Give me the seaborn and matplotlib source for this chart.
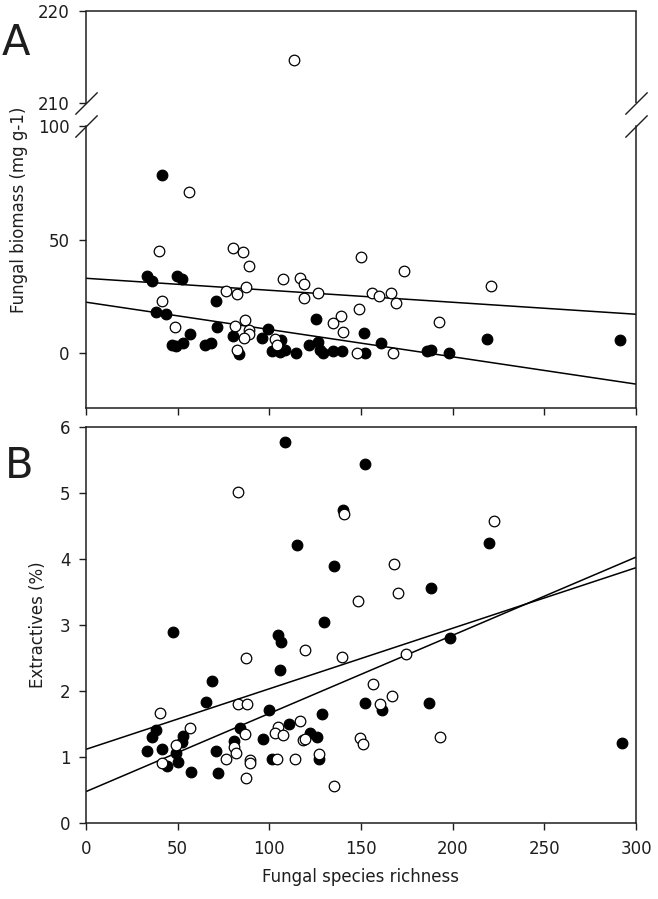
import numpy as np
import pandas as pd
import seaborn as sns
import matplotlib.pyplot as plt

# panel A: fungal biomass (mg g-1) vs fungal species richness
a_filled_x = [41.3, 33.1, 35.8, 49.8, 52.2, 70.7, 38.0, 43.6, 56.7, 46.7, 48.9, 52.7, 64.9,
              68.2, 71.6, 80.4, 83.6, 99.3, 96.2, 101.3, 105.8, 108.6, 106.2, 114.4, 121.8,
              126.7, 125.5, 127.5, 129.1, 134.9, 139.8, 151.8, 152.2, 160.9, 186.2, 188.0,
              197.9, 218.6, 291.3]
a_filled_y = [78.5, 34.2, 31.7, 34.2, 32.8, 22.8, 18.1, 17.1, 8.3, 3.5, 3.2, 4.5, 3.8,
              4.7, 11.8, 7.6, -0.3, 10.6, 6.9, 0.9, 0.6, 1.3, 6.0, 0.0, 3.9,
              5.1, 14.9, 1.4, 0.0, 1.0, 1.0, 8.9, 0.2, 4.6, 0.9, 1.3,
              0.1, 6.4, 6.1]
a_open_x = [113.5, 56.4, 40.0, 80.4, 85.8, 89.1, 107.2, 116.7, 118.9, 118.9, 126.5, 76.1,
            82.5, 87.2, 41.5, 48.8, 86.7, 81.3, 89.1, 89.1, 86.4, 82.5, 103.2, 104.2,
            150.0, 173.7, 156.0, 159.8, 166.4, 169.3, 148.9, 138.9, 134.6, 140.3, 192.3,
            221.0, 147.8, 167.5]
a_open_y = [214.7, 71.0, 44.8, 46.2, 44.7, 38.2, 32.7, 33.0, 30.6, 24.3, 26.4, 27.6,
            25.9, 29.0, 23.0, 11.6, 14.8, 12.0, 10.3, 8.4, 6.9, 1.3, 6.4, 3.5,
            42.2, 36.4, 26.5, 25.3, 26.6, 22.2, 19.4, 16.5, 13.5, 9.5, 13.7,
            29.7, 0.2, 0.1]

# panel B: extractives (%) vs fungal species richness
b_filled_x = [108.6, 152.2, 140.4, 114.9, 135.5, 129.6, 47.4, 104.9, 106.5, 219.9, 188.4,
              198.6, 105.9, 68.8, 65.3, 99.7, 128.8, 152.4, 161.2, 187.1, 292.6, 38.2,
              35.8, 84.0, 110.9, 52.9, 52.6, 33.4, 41.5, 49.3, 50.0, 44.0, 70.9, 80.7,
              96.6, 122.4, 126.2, 127.2, 101.3, 57.4, 72.2]
b_filled_y = [5.78, 5.44, 4.75, 4.22, 3.90, 3.05, 2.90, 2.85, 2.75, 4.25, 3.57,
              2.80, 2.32, 2.16, 1.83, 1.72, 1.66, 1.82, 1.71, 1.82, 1.22, 1.42,
              1.31, 1.45, 1.50, 1.32, 1.23, 1.09, 1.12, 1.06, 0.93, 0.86, 1.10, 1.25,
              1.27, 1.37, 1.31, 0.98, 0.98, 0.77, 0.76]
b_open_x = [83.1, 140.9, 148.5, 222.4, 168.2, 170.0, 174.5, 156.8, 167.1, 160.2, 149.5,
            150.9, 193.1, 87.3, 119.6, 139.6, 40.4, 82.8, 87.7, 56.9, 86.9, 104.9,
            103.2, 107.6, 116.9, 118.2, 119.5, 49.1, 80.8, 81.6, 41.7, 76.4, 89.5,
            89.5, 104.0, 114.1, 127.2, 87.3, 135.3]
b_open_y = [5.01, 4.69, 3.36, 4.58, 3.93, 3.49, 2.57, 2.11, 1.93, 1.80, 1.29,
            1.20, 1.31, 2.51, 2.62, 2.52, 1.67, 1.80, 1.80, 1.44, 1.35, 1.46,
            1.36, 1.34, 1.55, 1.26, 1.27, 1.18, 1.15, 1.06, 0.92, 0.97, 0.96,
            0.91, 0.98, 0.98, 1.05, 0.68, 0.57]

# regression lines (values at x = 0 and x = 300)
fit_x = [0, 300]
a_fit_open = [33.0, 17.2]
a_fit_filled = [22.5, -13.5]
b_fit_1 = [1.12, 3.87]
b_fit_2 = [0.48, 4.03]

x_ticks = [0, 50, 100, 150, 200, 250, 300]
a_yticks = [0, 50, 100, 210, 220]
b_yticks = [0, 1, 2, 3, 4, 5, 6]

sns.set_style("ticks")
plt.rcParams['font.family'] = ['DejaVu Sans']
INK = '#1e1e1e'
FS = 12

# broken y axis for panel A: 0-100 linear, 210-220 stretched, small gap in between
GAP = 10.1
K = 4.035


def fwd(y):
    y = np.asarray(y, dtype=float)
    return np.where(y <= 100, y,
                    np.where(y >= 210, 100 + GAP + (y - 210) * K,
                             100 + (y - 100) * GAP / 110))


def inv(v):
    v = np.asarray(v, dtype=float)
    return np.where(v <= 100, v,
                    np.where(v >= 100 + GAP, 210 + (v - 100 - GAP) / K,
                             100 + (v - 100) * 110 / GAP))


fig = plt.figure(figsize=(6.58, 8.99), dpi=100)
ax_a = fig.add_axes([86 / 658, 1 - 408 / 899, 550 / 658, 397 / 899])
ax_b = fig.add_axes([86 / 658, 1 - 823.3 / 899, 550 / 658, 396.3 / 899])

dots = dict(s=58, marker='o', linewidth=0.9, legend=False)

for ax, fx, fy, ox, oy in [(ax_a, a_filled_x, a_filled_y, a_open_x, a_open_y),
                           (ax_b, b_filled_x, b_filled_y, b_open_x, b_open_y)]:
    sns.scatterplot(x=fx, y=fy, ax=ax, color='black', edgecolor='black', zorder=3, **dots)
    sns.scatterplot(x=ox, y=oy, ax=ax, color='white', edgecolor='black', zorder=4, **dots)

for ax, fits in [(ax_a, [a_fit_open, a_fit_filled]), (ax_b, [b_fit_1, b_fit_2])]:
    for f in fits:
        sns.lineplot(x=fit_x, y=f, ax=ax, color='black', linewidth=1.1, zorder=2)

# panel A axes
ax_a.set_yscale('function', functions=(fwd, inv))
ax_a.set_xlim(0, 300)
ax_a.set_ylim(-24, 220)
ax_a.set_xticks(x_ticks)
ax_a.set_xticklabels([])
ax_a.set_yticks(a_yticks)
ax_a.minorticks_off()
ax_a.set_ylabel('Fungal biomass (mg g-1)', fontsize=FS, color=INK)
ax_a.yaxis.set_label_coords(-0.106, 0.5)
ax_a.tick_params(axis='y', labelsize=FS, pad=7)

# split the side spines at the break and add the slash marks
for side, xpos in [('left', 0), ('right', 1)]:
    ax_a.spines[side].set_bounds(-24, 100)
    ax_a.plot([xpos, xpos], [210, 220], color=INK, linewidth=1.1, clip_on=False,
              transform=ax_a.get_yaxis_transform(), solid_capstyle='butt')
    ax_a.plot([xpos, xpos], [210, 100], linestyle='none', marker=[(-1, -1), (1, 1)],
              markersize=16, markerfacecolor='none', markeredgecolor=INK,
              markeredgewidth=1.0, clip_on=False, transform=ax_a.get_yaxis_transform())

# panel B axes
ax_b.set_xlim(0, 300)
ax_b.set_ylim(0, 6)
ax_b.set_xticks(x_ticks)
ax_b.set_yticks(b_yticks)
ax_b.set_ylabel('Extractives (%)', fontsize=FS, color=INK)
ax_b.yaxis.set_label_coords(-0.070, 0.5)
ax_b.set_xlabel('Fungal species richness', fontsize=FS, color=INK)
ax_b.xaxis.set_label_coords(0.5, -0.112)
ax_b.tick_params(axis='y', labelsize=FS, pad=6)
ax_b.tick_params(axis='x', labelsize=FS, pad=7)

for ax in [ax_a, ax_b]:
    for sp in ax.spines.values():
        sp.set_visible(True)
        sp.set_color(INK)
        sp.set_linewidth(1.1)
    ax.tick_params(direction='out', length=5, width=1.0, color=INK, labelcolor=INK,
                   top=False, right=False)

fig.text(2 / 658, 1 - 43 / 899, 'A', fontsize=30, ha='left', va='center', color=INK)
fig.text(5 / 658, 1 - 466 / 899, 'B', fontsize=30, ha='left', va='center', color=INK)

fig.savefig('out.png', dpi=100)
